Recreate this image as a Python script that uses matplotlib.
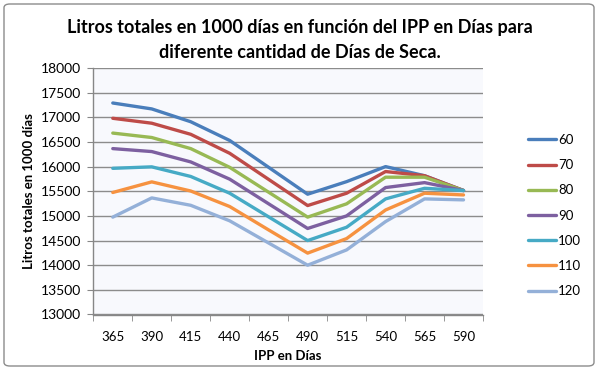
import matplotlib
matplotlib.use("Agg")
import matplotlib.pyplot as plt
from matplotlib.patches import FancyBboxPatch
import numpy as np

plt.rcParams['font.family'] = ['Lato', 'DejaVu Sans']

ipp_days = ["365", "390", "415", "440", "465", "490", "515", "540", "565", "590"]
series_labels = ["60", "70", "80", "90", "100", "110", "120"]
s60 = [17290, 17170, 16910, 16530, 15985, 15440, 15695, 16000, 15815, 15515]
s70 = [16980, 16880, 16655, 16270, 15740, 15210, 15460, 15900, 15815, 15515]
s80 = [16680, 16590, 16365, 15985, 15480, 14975, 15245, 15785, 15785, 15515]
s90 = [16365, 16305, 16095, 15745, 15245, 14745, 15000, 15575, 15675, 15515]
s100 = [15965, 15995, 15800, 15460, 14980, 14500, 14770, 15345, 15560, 15515]
s110 = [15475, 15690, 15505, 15190, 14715, 14245, 14540, 15120, 15460, 15425]
s120 = [14975, 15365, 15215, 14900, 14450, 14000, 14310, 14885, 15345, 15325]
colors = ["#4A7EBB", "#BE4B48", "#98B954", "#7D60A0", "#46AAC5", "#F69240", "#94B0D8"]

all_series = [s60, s70, s80, s90, s100, s110, s120]

W, H = 598, 370
fig = plt.figure(figsize=(W / 100, H / 100), dpi=100)
fig.patch.set_facecolor("white")

# chart border
border = FancyBboxPatch((4 / W, 4 / H), 590 / W, 362 / H,
                        boxstyle="round,pad=0,rounding_size=0.01",
                        transform=fig.transFigure, facecolor="none",
                        edgecolor="#8C8C8C", linewidth=1.0, zorder=10)
fig.patches.append(border)

left, right = 93.3 / W, 483 / W
top, bottom = 1 - 68 / H, 1 - 314.5 / H
ax = fig.add_axes([left, bottom, right - left, top - bottom])
ax.set_facecolor("#F8F9FD")

x = np.arange(len(ipp_days))
for vals, lab, col in zip(all_series, series_labels, colors):
    ax.plot(x, vals, color=col, linewidth=2.4, label=lab, solid_capstyle="round",
            solid_joinstyle="round", zorder=3)

ax.set_xlim(-0.5, len(ipp_days) - 0.5)
ax.set_ylim(13000, 18000)
ax.set_yticks(np.arange(13000, 18001, 500))
ax.set_xticks(x)
ax.set_xticklabels(ipp_days)
ax.set_xticks(np.arange(-0.5, len(ipp_days), 1.0), minor=True)
ax.tick_params(axis="x", which="major", length=0, pad=12, labelsize=9.5, colors="black")
ax.tick_params(axis="x", which="minor", length=4, color="#878787", direction="out")
ax.tick_params(axis="y", length=4, color="#878787", direction="out", pad=5, labelsize=10)

ax.yaxis.grid(True, color="#8C8C8C", linewidth=1.0, zorder=1)
ax.set_axisbelow(True)
for sp in ["top", "right"]:
    ax.spines[sp].set_visible(False)
for sp in ["left", "bottom"]:
    ax.spines[sp].set_color("#878787")
    ax.spines[sp].set_linewidth(1.0)

ax.set_xlabel("IPP en Días", fontsize=9.5, fontweight="bold", labelpad=5)
ax.set_ylabel("Litros totales en 1000 días", fontsize=9.5, fontweight="bold", labelpad=4)

fig.text(300 / W, 1 - 28 / H, "Litros totales en 1000 días en función del IPP en Días para",
         ha="center", va="center", fontsize=13, fontweight="bold")
fig.text(300 / W, 1 - 52 / H, "diferente cantidad de Días de Seca.",
         ha="center", va="center", fontsize=13, fontweight="bold")

leg = fig.legend(loc="upper left", bbox_to_anchor=(528 / W, 1 - 134 / H),
                 frameon=False, fontsize=9.5, handlelength=2.1, handletextpad=0.2,
                 labelspacing=1.0, borderaxespad=0, borderpad=0)

fig.savefig("out.png", dpi=100)
